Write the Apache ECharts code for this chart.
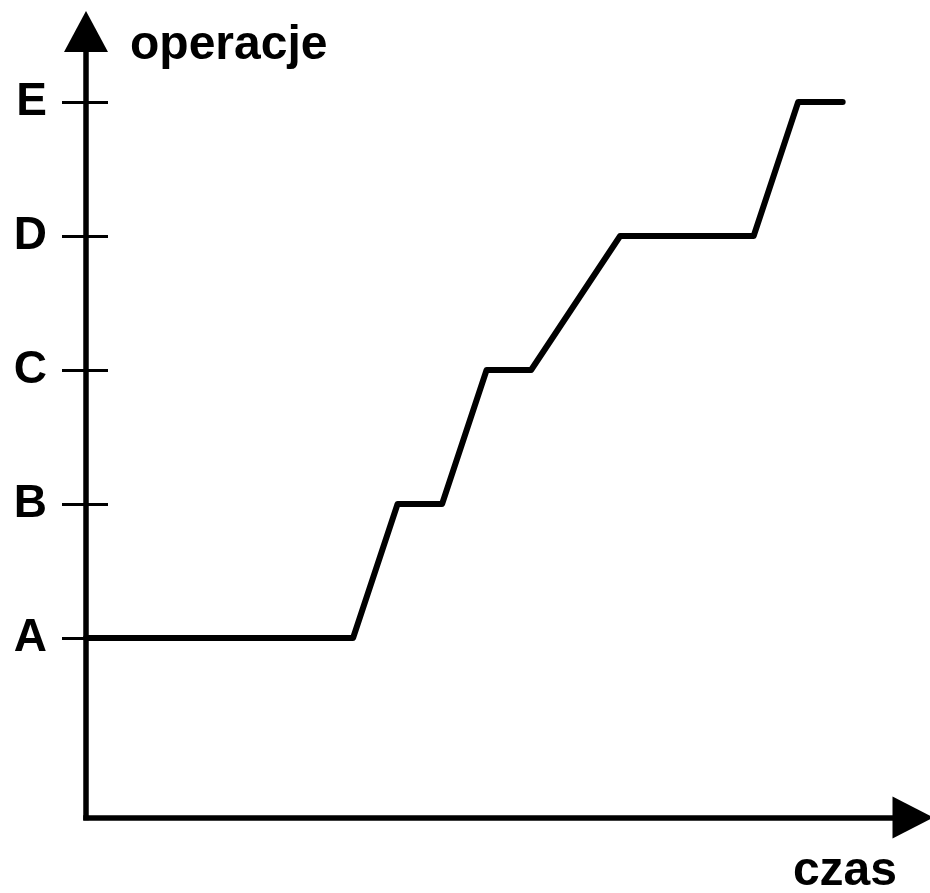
<!DOCTYPE html>
<html>
<head>
<meta charset="utf-8">
<script src="https://cdn.jsdelivr.net/npm/echarts@6/dist/echarts.min.js"></script>
<style>
html,body{margin:0;padding:0;background:#fff;}
#chart{width:930px;height:893px;}
</style>
</head>
<body>
<div id="chart"></div>
<script>
// Data
const timePoints = [0, 6, 7, 8, 9, 10, 12, 15, 16, 17];
const operationLevels = [1, 1, 2, 2, 3, 3, 4, 4, 5, 5];
const operationLabels = ['A', 'B', 'C', 'D', 'E'];
const operationTicks = [1, 2, 3, 4, 5];
const xAxisName = 'czas';
const yAxisName = 'operacje';

const FONT = '"Liberation Sans", Arial, Helvetica, sans-serif';
const chart = echarts.init(document.getElementById('chart'), null, {renderer: 'canvas'});

const seriesData = timePoints.map((t, i) => [t, operationLevels[i]]);

const option = {
  animation: false,
  backgroundColor: '#ffffff',
  grid: {left: 86, right: 17, top: 31.5, bottom: 75.5, containLabel: false, outerBoundsMode: 'none'},
  xAxis: {
    type: 'value',
    min: 0,
    max: 18.58,
    name: xAxisName,
    nameLocation: 'end',
    nameGap: -16,
    nameTextStyle: {
      fontFamily: FONT, fontSize: 48, fontWeight: 'bold', color: '#000',
      align: 'right', verticalAlign: 'top', lineHeight: 48, padding: [30, 0, 0, 0]
    },
    axisLine: {
      show: true,
      onZero: false,
      symbol: ['none', 'triangle'],
      symbolSize: [42, 41],
      lineStyle: {color: '#000', width: 5.5, cap: 'square'}
    },
    axisTick: {show: false},
    axisLabel: {show: false},
    splitLine: {show: false}
  },
  yAxis: [
    {
      type: 'value',
      min: -0.34,
      max: 5.526,
      position: 'left',
      name: yAxisName,
      nameLocation: 'end',
      nameGap: -14,
      nameTextStyle: {
        fontFamily: FONT, fontSize: 48, fontWeight: 'bold', color: '#000',
        align: 'left', verticalAlign: 'middle', padding: [0, 0, 0, 44]
      },
      axisLine: {
        show: true,
        onZero: false,
        symbol: ['none', 'triangle'],
        symbolSize: [44, 41],
        lineStyle: {color: '#000', width: 5.5, cap: 'square'}
      },
      axisTick: {
        show: true,
        length: 24,
        customValues: operationTicks,
        lineStyle: {color: '#000', width: 3}
      },
      axisLabel: {
        show: true,
        margin: 39,
        customValues: operationTicks,
        formatter: v => operationLabels[Math.round(v) - 1] || '',
        fontFamily: FONT, fontSize: 46, fontWeight: 'bold', color: '#000'
      },
      splitLine: {show: false}
    },
    {
      type: 'value',
      min: -0.34,
      max: 5.526,
      position: 'left',
      offset: 0,
      axisLine: {show: false, onZero: false},
      axisTick: {
        show: true,
        inside: true,
        length: 22,
        customValues: operationTicks,
        lineStyle: {color: '#000', width: 3}
      },
      axisLabel: {show: false},
      splitLine: {show: false}
    }
  ],
  series: [{
    type: 'line',
    data: seriesData,
    yAxisIndex: 0,
    symbol: 'none',
    clip: false,
    lineStyle: {color: '#000', width: 6, cap: 'round', join: 'round'},
    z: 5
  }]
};
chart.setOption(option);
</script>
</body>
</html>
